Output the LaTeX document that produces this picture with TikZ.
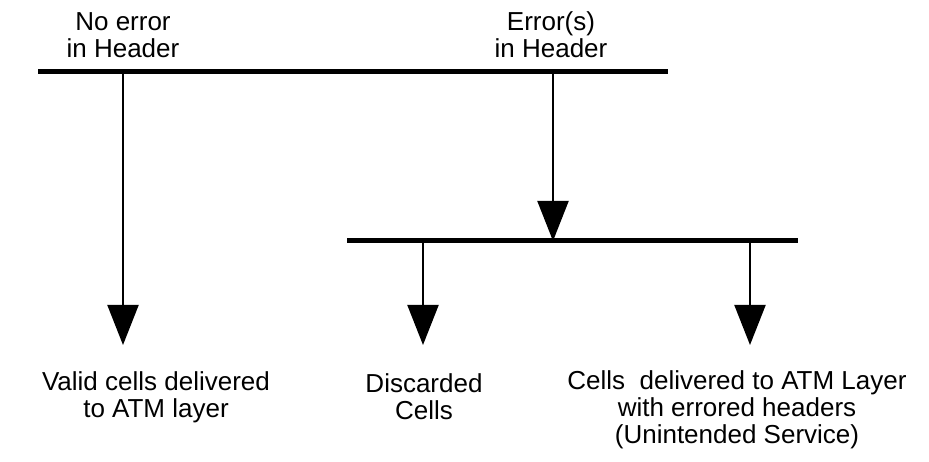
\documentclass[tikz,border=0pt]{standalone}
\usepackage{fontspec}
\setmainfont{Liberation Sans}
\usetikzlibrary{arrows.meta}
\tikzset{
    busline/.style = {line width=5pt},
    dropline/.style = {line width=2pt},
    droparrow/.style = {line width=2pt,-{Triangle[length=40pt,width=31pt]}},
    lbl/.style = {align=center,inner sep=0pt,font=\fontsize{26}{27}\selectfont}
}
\begin{document}
\begin{tikzpicture}[x=1pt,y=-1pt]
\useasboundingbox (0,0) rectangle (929,462);
%
\coordinate (topw) at (38,72);
\coordinate (tope) at (668,72);
\coordinate (noerr) at (123,72);
\coordinate (err) at (553,72);
\coordinate (loww) at (347,241);
\coordinate (lowe) at (798,241);
\coordinate (split) at (553,241);
\coordinate (disc) at (423,241);
\coordinate (unint) at (750,241);
\coordinate (validend) at (123,345);
\coordinate (discend) at (423,345);
\coordinate (unintend) at (750,345);
%
\node[lbl] at (123,35) (noerrtxt) {No error\\in Header};
\node[lbl] at (551,35) (errtxt) {Error(s)\\in Header};
\node[lbl] at (156,397) (validtxt) {Valid cells delivered\\to ATM layer};
\node[lbl] at (424,397) (disctxt) {Discarded\\Cells};
\node[lbl] at (737,410) (uninttxt) {Cells\ \ delivered to ATM Layer\\with errored headers\\(Unintended Service)};
%
\draw[busline] (topw) -- (tope);
\draw[busline] (loww) -- (lowe);
\draw[droparrow] (noerr) -- (validend);
\draw[droparrow] (err) -- (split);
\draw[droparrow] (disc) -- (discend);
\draw[droparrow] (unint) -- (unintend);

\end{tikzpicture}
\end{document}
